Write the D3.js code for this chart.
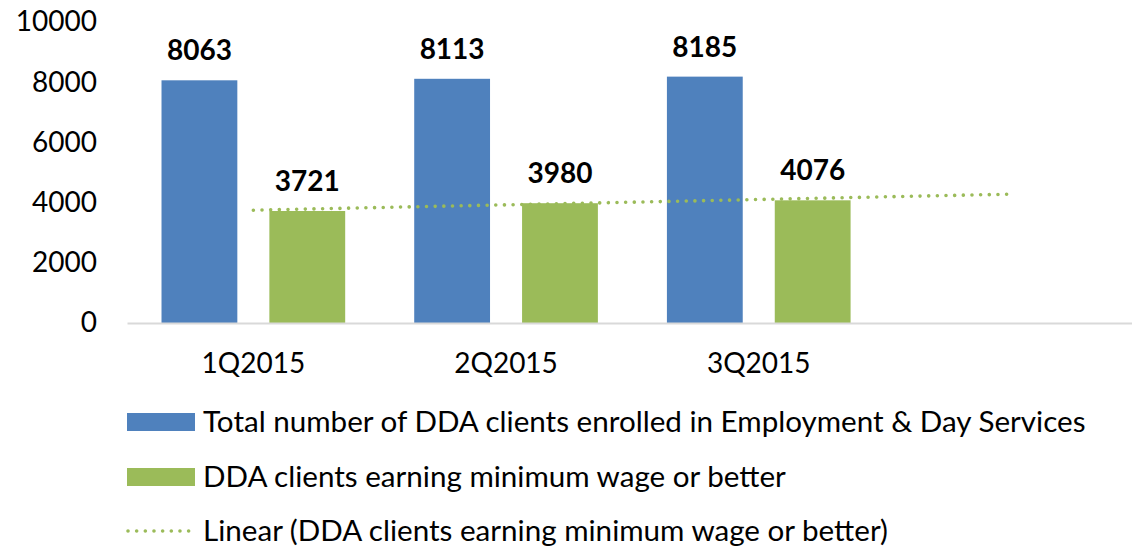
<!DOCTYPE html>
<html>
<head>
<meta charset="utf-8">
<script src="https://cdn.jsdelivr.net/npm/d3@7"></script>
<style>
  html, body { margin: 0; padding: 0; background: #fff; }
  svg { display: block; font-family: Lato, "Open Sans", sans-serif; }
</style>
</head>
<body>
<svg id="chart" width="1132" height="546"></svg>
<script>
// ---- data ----
const categories = ["1Q2015", "2Q2015", "3Q2015", ""];
const seriesNames = [
  "Total number of DDA clients enrolled in Employment & Day Services",
  "DDA clients earning minimum wage or better"
];
const totalEnrolled = [8063, 8113, 8185];
const minWage = [3721, 3980, 4076];
const yTicks = [0, 2000, 4000, 6000, 8000, 10000];
const trendName = "Linear (DDA clients earning minimum wage or better)";

const colors = ["#4F81BD", "#9BBB59"];

const svg = d3.select("#chart");

const x = d3.scaleBand().domain(categories).range([127, 1137.8]).paddingInner(0).paddingOuter(0);
const xSub = d3.scaleBand().domain([0, 1]).range([0, x.bandwidth()]).paddingInner(0.297).paddingOuter(0.32);
const y = d3.scaleLinear().domain([0, 10000]).range([323, 22]);

// y axis labels
const yAxis = d3.axisLeft(y).tickValues(yTicks).tickSize(0).tickPadding(0).tickFormat(d3.format("d"));
const yg = svg.append("g").attr("transform", "translate(97,0)").call(yAxis);
yg.select(".domain").remove();
yg.selectAll("text").attr("font-size", 28).attr("fill", "#000").attr("font-family", "Lato, sans-serif");

// bars
const series = [totalEnrolled, minWage];
series.forEach((vals, si) => {
  svg.append("g").selectAll("rect").data(vals).join("rect")
    .attr("x", (d, i) => x(categories[i]) + xSub(si))
    .attr("width", xSub.bandwidth())
    .attr("y", d => y(d))
    .attr("height", d => y(0) - y(d))
    .attr("fill", colors[si]);
  svg.append("g").selectAll("text").data(vals).join("text")
    .attr("x", (d, i) => x(categories[i]) + xSub(si) + xSub.bandwidth() / 2)
    .attr("y", d => y(d) - 20)
    .attr("text-anchor", "middle")
    .attr("font-size", 28)
    .attr("font-weight", "bold")
    .text(d => d);
});

// x axis
const xAxis = d3.axisBottom(x).tickSize(0).tickPadding(0);
const xg = svg.append("g").attr("transform", `translate(0,${y(0)})`).call(xAxis);
xg.select(".domain").attr("stroke", "#D9D9D9").attr("stroke-width", 2);
xg.selectAll("text").attr("font-size", 28).attr("fill", "#000").attr("font-family", "Lato, sans-serif")
  .attr("dy", null).attr("y", 50);

// linear trendline on minWage, forecast forward 1 period
const xs = minWage.map((d, i) => i + 1);
const mx = d3.mean(xs), my = d3.mean(minWage);
const slope = d3.sum(xs.map((xi, i) => (xi - mx) * (minWage[i] - my))) / d3.sum(xs.map(xi => (xi - mx) ** 2));
const intercept = my - slope * mx;
const trendPts = [1, categories.length].map(k => [x(categories[k - 1]) + x.bandwidth() / 2, y(intercept + slope * k)]);
svg.append("path")
  .attr("d", d3.line()(trendPts))
  .attr("fill", "none")
  .attr("stroke", colors[1])
  .attr("stroke-width", 3.6)
  .attr("stroke-linecap", "round")
  .attr("stroke-dasharray", "0.01 8.65");

// legend
const legend = svg.append("g");
const rows = [0, 1, 2];
const rowY = [422, 477, 531];
rows.forEach(r => {
  if (r < 2) {
    legend.append("rect").attr("x", 127).attr("y", rowY[r] - 9).attr("width", 68).attr("height", 18).attr("fill", colors[r]);
  } else {
    legend.append("line").attr("x1", 128).attr("x2", 189).attr("y1", rowY[r]).attr("y2", rowY[r])
      .attr("stroke", colors[1]).attr("stroke-width", 3.6).attr("stroke-linecap", "round")
      .attr("stroke-dasharray", "0.01 8.65");
  }
  legend.append("text").attr("x", 203).attr("y", rowY[r] + 10).attr("font-size", 29.6)
    .text(r < 2 ? seriesNames[r] : trendName);
});
</script>
</body>
</html>
